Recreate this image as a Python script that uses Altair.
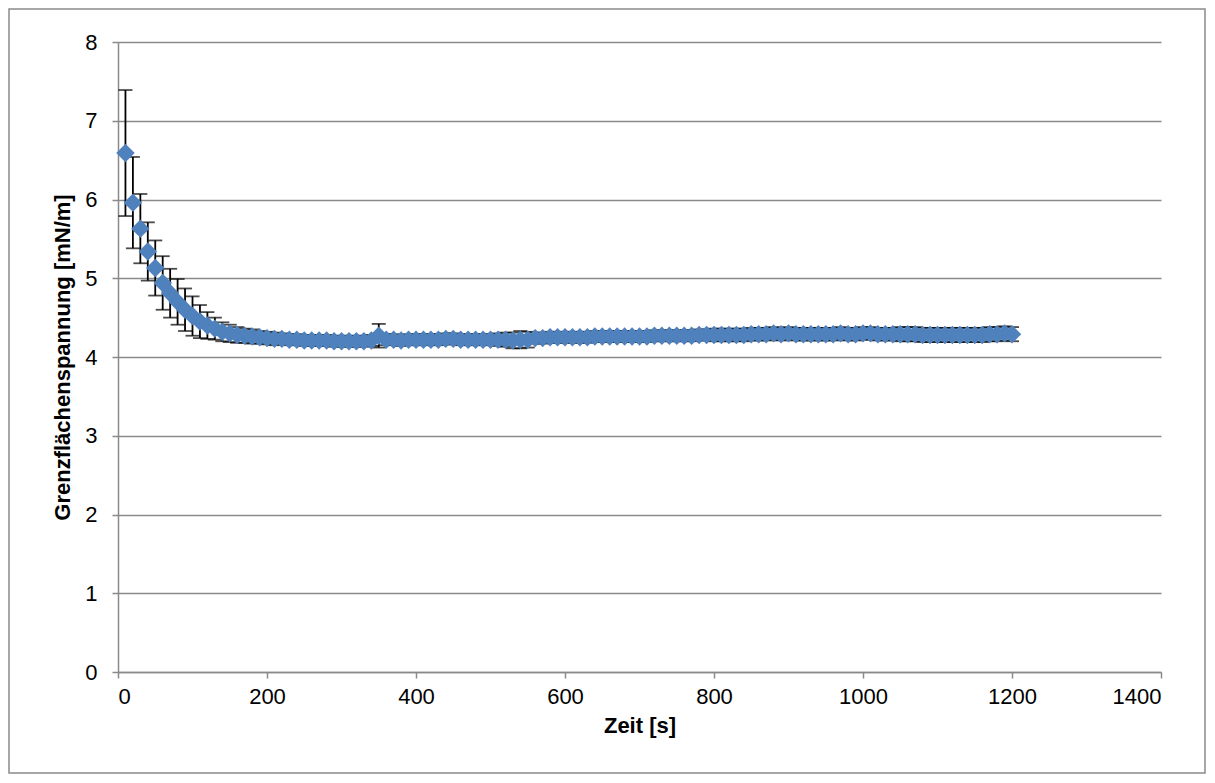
import altair as alt
import pandas as pd

zeit = [10, 20, 30, 40, 50, 60, 70, 80, 90, 100, 110, 120, 130, 140, 150,
        160, 170, 180, 190, 200, 210, 220, 230, 240, 250, 260, 270, 280, 290, 300,
        310, 320, 330, 340, 350, 360, 370, 380, 390, 400, 410, 420, 430, 440, 450,
        460, 470, 480, 490, 500, 510, 520, 530, 540, 550, 560, 570, 580, 590, 600,
        610, 620, 630, 640, 650, 660, 670, 680, 690, 700, 710, 720, 730, 740, 750,
        760, 770, 780, 790, 800, 810, 820, 830, 840, 850, 860, 870, 880, 890, 900,
        910, 920, 930, 940, 950, 960, 970, 980, 990, 1000, 1010, 1020, 1030, 1040, 1050,
        1060, 1070, 1080, 1090, 1100, 1110, 1120, 1130, 1140, 1150, 1160, 1170, 1180, 1190, 1200]

spannung = [6.59, 5.96, 5.63, 5.34, 5.13, 4.94, 4.81, 4.70, 4.60, 4.52, 4.45, 4.40, 4.36, 4.32, 4.30,
            4.28, 4.27, 4.26, 4.25, 4.24, 4.23, 4.23, 4.22, 4.22, 4.21, 4.21, 4.21, 4.21, 4.20, 4.20,
            4.20, 4.20, 4.20, 4.21, 4.27, 4.22, 4.22, 4.21, 4.22, 4.22, 4.22, 4.22, 4.22, 4.23, 4.23,
            4.22, 4.22, 4.22, 4.22, 4.22, 4.22, 4.22, 4.21, 4.22, 4.22, 4.24, 4.24, 4.25, 4.25, 4.25,
            4.25, 4.25, 4.25, 4.26, 4.26, 4.26, 4.26, 4.26, 4.26, 4.26, 4.26, 4.27, 4.27, 4.27, 4.27,
            4.27, 4.27, 4.28, 4.28, 4.28, 4.28, 4.28, 4.28, 4.28, 4.29, 4.29, 4.29, 4.30, 4.29, 4.30,
            4.29, 4.29, 4.29, 4.29, 4.29, 4.29, 4.30, 4.29, 4.29, 4.30, 4.30, 4.29, 4.29, 4.29, 4.29,
            4.29, 4.29, 4.28, 4.28, 4.28, 4.28, 4.28, 4.28, 4.28, 4.28, 4.28, 4.29, 4.29, 4.30, 4.29]

fehler = [0.80, 0.58, 0.44, 0.37, 0.35, 0.34, 0.31, 0.29, 0.27, 0.25, 0.21, 0.17, 0.14, 0.12, 0.11,
          0.10, 0.09, 0.09, 0.08, 0.08, 0.08, 0.07, 0.07, 0.07, 0.07, 0.07, 0.07, 0.07, 0.07, 0.07,
          0.07, 0.07, 0.07, 0.07, 0.15, 0.07, 0.07, 0.07, 0.07, 0.07, 0.07, 0.07, 0.07, 0.07, 0.07,
          0.07, 0.07, 0.07, 0.07, 0.07, 0.08, 0.09, 0.10, 0.11, 0.10, 0.07, 0.07, 0.07, 0.07, 0.07,
          0.07, 0.07, 0.07, 0.07, 0.07, 0.07, 0.07, 0.07, 0.07, 0.07, 0.07, 0.07, 0.07, 0.07, 0.07,
          0.07, 0.07, 0.07, 0.07, 0.08, 0.08, 0.08, 0.08, 0.08, 0.08, 0.08, 0.08, 0.08, 0.08, 0.08,
          0.08, 0.08, 0.08, 0.08, 0.08, 0.08, 0.08, 0.08, 0.08, 0.08, 0.08, 0.08, 0.08, 0.08, 0.09,
          0.09, 0.09, 0.09, 0.09, 0.09, 0.09, 0.09, 0.09, 0.09, 0.09, 0.09, 0.09, 0.09, 0.09, 0.09]

df = pd.DataFrame({"zeit": zeit, "wert": spannung, "err": fehler})
df["lo"] = df["wert"] - df["err"]
df["hi"] = df["wert"] + df["err"]

GRID = "#8a8a8a"
FONT = "Liberation Sans"

xscale = alt.Scale(domain=[0, 1400], nice=False)
yscale = alt.Scale(domain=[0, 8], nice=False)

base = alt.Chart(df)

common = dict(labelFont=FONT, titleFont=FONT, labelFontSize=22, titleFontSize=22,
              labelColor="black", titleColor="black", titleFontWeight="bold",
              domainColor=GRID, domainWidth=1.5, tickColor=GRID, tickWidth=1.5, tickSize=6,
              format="d")

x_enc = alt.X("zeit:Q", scale=xscale,
              axis=alt.Axis(title="Zeit [s]", values=[0, 200, 400, 600, 800, 1000, 1200, 1400],
                            grid=False, labelPadding=8, titlePadding=8, **common))

y_axis = alt.Axis(title="Grenzflächenspannung [mN/m]", values=[0, 1, 2, 3, 4, 5, 6, 7, 8],
                  grid=True, gridColor=GRID, gridWidth=1.5, labelPadding=15, titlePadding=10,
                  **common)

rules = base.mark_rule(color="black", strokeWidth=1.8).encode(
    x=x_enc,
    y=alt.Y("lo:Q", scale=yscale, axis=y_axis),
    y2="hi:Q",
)
cap_hi = base.mark_tick(orient="horizontal", color="black", size=14, thickness=1.8).encode(
    x="zeit:Q", y="hi:Q")
cap_lo = base.mark_tick(orient="horizontal", color="black", size=14, thickness=1.8).encode(
    x="zeit:Q", y="lo:Q")
points = base.mark_point(shape="diamond", filled=True, size=340, color="#4F81BD", opacity=1).encode(
    x="zeit:Q", y="wert:Q")

border = alt.Chart(pd.DataFrame({"a": [0]})).mark_rect(
    fill=None, stroke="#8a8a8a", strokeWidth=1.5).encode(
    x=alt.value(-109), x2=alt.value(1087), y=alt.value(-33), y2=alt.value(731))

chart = alt.layer(border, rules, cap_hi, cap_lo, points).properties(
    width=1043, height=630,
    autosize=alt.AutoSizeParams(type="none"),
    padding={"left": 110, "top": 34, "right": 45, "bottom": 102},
).configure_view(stroke=None)

chart.save("out.html", embed_options={"renderer": "svg", "actions": False})
